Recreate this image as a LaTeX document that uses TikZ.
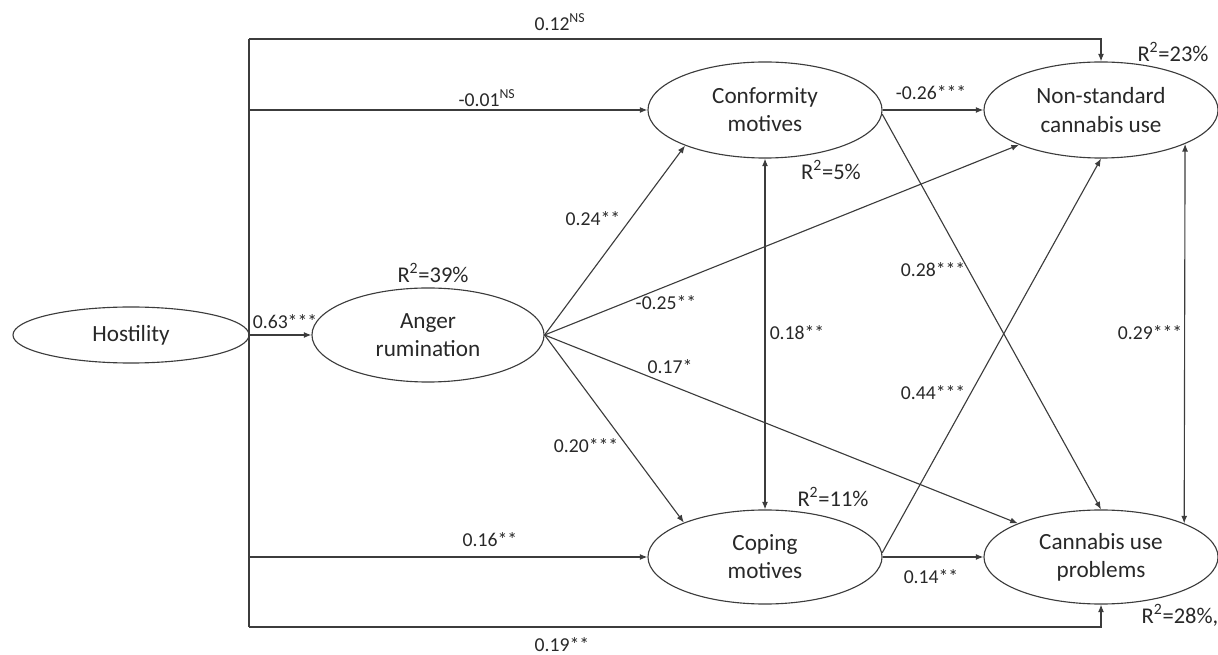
\documentclass[tikz,border=0pt]{standalone}
\usepackage{fontspec}
\setmainfont{Carlito}
\usetikzlibrary{shapes.geometric,arrows.meta,calc}
\definecolor{pathgray}{RGB}{60,60,60}
\definecolor{textgray}{RGB}{40,40,40}

\tikzset{
  latent/.style={ellipse,draw=pathgray,line width=0.8pt,minimum width=5.85cm,minimum height=2.4cm,inner sep=0pt,align=center,font=\fontsize{16.5}{20}\selectfont,text=textgray},
  coef/.style={font=\fontsize{14}{16}\selectfont,text=textgray,inner sep=1pt},
  rsq/.style={font=\fontsize{16}{19}\selectfont,text=textgray,inner sep=1pt},
  link/.style={draw=pathgray,line width=0.8pt,-{Latex[length=1.9mm,width=1.5mm]}},
  covar/.style={link,{Latex[length=1.9mm,width=1.5mm]}-{Latex[length=1.9mm,width=1.5mm]}}
}

\begin{document}
\begin{tikzpicture}[x=0.025cm,y=-0.025cm]
    \useasboundingbox (0,0) rectangle (1218,655);

    % Constructs
    \node[latent,minimum width=5.9cm,minimum height=1.4cm] (host) at (131,335) {Hostility};
    \node[latent,minimum width=5.8cm,minimum height=2.35cm] (anger) at (428,335) {Anger\\rumination};
    \node[latent] (conf) at (765,110) {Conformity\\motives};
    \node[latent] (nonstd) at (1101,110) {Non-standard\\cannabis use};
    \node[latent,minimum height=2.35cm] (cope) at (765,557) {Coping\\motives};
    \node[latent,minimum height=2.35cm] (prob) at (1101,557) {Cannabis use\\problems};

    % Hostility paths
    \coordinate (ttop) at (249,39);
    \coordinate (tbot) at (249,627);
    \draw[draw=pathgray,line width=0.8pt] (ttop) -- (tbot);
    \draw[link] (ttop) -| (nonstd.north);
    \draw[link] (tbot) -| (prob.south);
    \draw[link] (conf.west -| ttop) -- (conf.west);
    \draw[link] (cope.west -| ttop) -- (cope.west);
    \draw[link] (host.east) -- (anger.west);

    % Anger rumination paths
    \draw[link] (anger.east) -- (conf.204);
    \draw[link] (anger.east) -- (nonstd.203);
    \draw[link] (anger.east) -- (cope.157);
    \draw[link] (anger.east) -- (prob.158);

    % Motive paths
    \draw[link] (conf.east) -- (nonstd.west);
    \draw[link] (conf.358) -- (prob.north);
    \draw[link] (cope.east) -- (prob.west);
    \draw[link] (cope.2) -- (nonstd.south);
    \draw[covar] (conf.south) -- (cope.north);
    \draw[covar] (nonstd.-22) -- (prob.22);

    % Coefficients
    \node[coef] (c12) at (560,22) {0.12\textsuperscript{NS}};
    \node[coef] (c01) at (487,98) {-0.01\textsuperscript{NS}};
    \node[coef] (c63) at (285,322) {0.63***};
    \node[coef] (c24) at (593,219) {0.24**};
    \node[coef] (c20) at (586,446) {0.20***};
    \node[coef] (c16) at (490,540) {0.16**};
    \node[coef] (c19) at (562,645) {0.19**};
    \node[coef] (c25) at (666,303) {-0.25**};
    \node[coef] (c17) at (670,367) {0.17*};
    \node[coef] (c18) at (797,333) {0.18**};
    \node[coef] (c26) at (931,93) {-0.26***};
    \node[coef] (c28) at (933,270) {0.28***};
    \node[coef] (c44) at (933,393) {0.44***};
    \node[coef] (c29) at (1150,333) {0.29***};
    \node[coef] (c14) at (931,577) {0.14**};

    % Explained variance
    \node[rsq] (r39) at (433,273) {R\textsuperscript{2}=39\%};
    \node[rsq] (r5) at (831,170) {R\textsuperscript{2}=5\%};
    \node[rsq] (r23) at (1173,52) {R\textsuperscript{2}=23\%};
    \node[rsq] (r11) at (833,497) {R\textsuperscript{2}=11\%};
    \node[rsq] (r28) at (1180,615) {R\textsuperscript{2}=28\%,};
\end{tikzpicture}
\end{document}
